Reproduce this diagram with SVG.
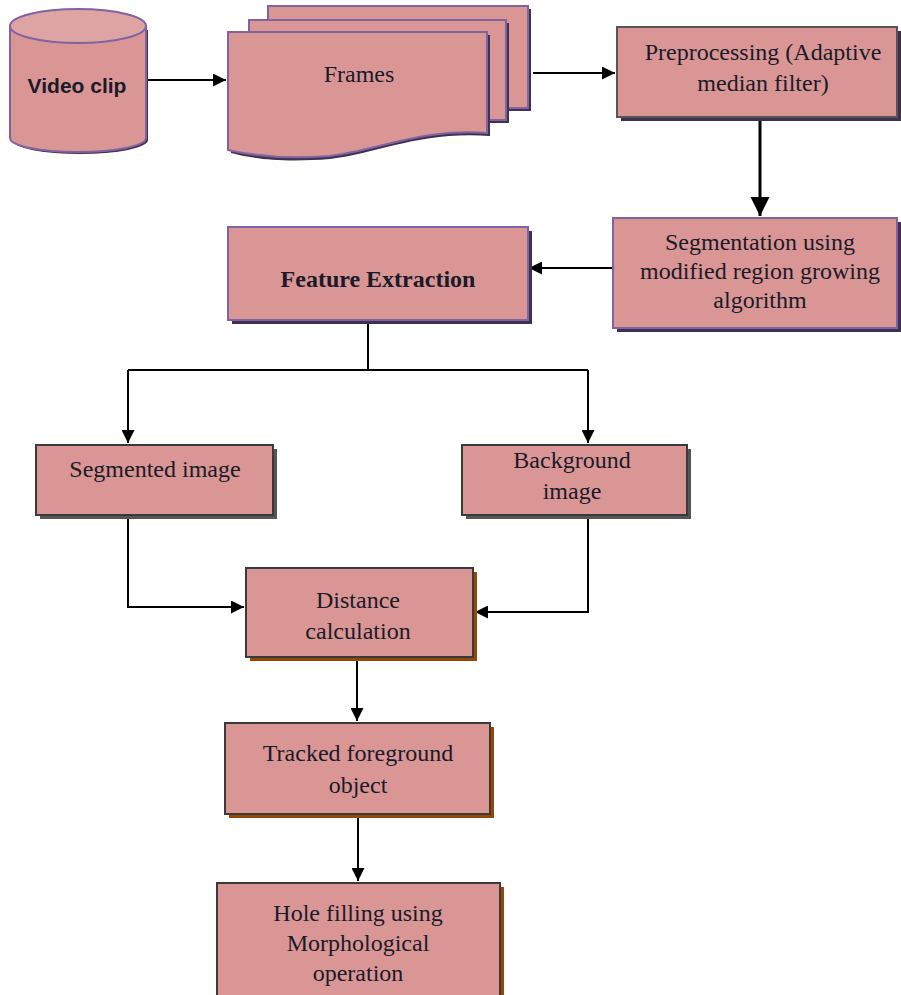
<svg xmlns="http://www.w3.org/2000/svg" width="901" height="995" viewBox="0 0 901 995">
<defs>
<style>
.box{fill:#d99694;}
.bp{stroke:#8064a2;stroke-width:2;}
.bg{stroke:#3a3a3a;stroke-width:2;}
.shp{fill:#3f3151;}
.shb{fill:#984806;}
.shg{fill:#555555;}
.t{font-family:"Liberation Serif","Times New Roman",serif;font-size:24px;fill:#1a1a2a;text-anchor:middle;}
.ts{font-family:"Liberation Sans",Arial,sans-serif;font-size:21px;font-weight:bold;fill:#1a1a2a;text-anchor:middle;}
.c{stroke:#000;stroke-width:2;fill:none;}
</style>
<marker id="ah" viewBox="0 0 10 10" refX="10" refY="5" markerWidth="6.5" markerHeight="6.5" markerUnits="strokeWidth" orient="auto">
<path d="M0,0 L10,5 L0,10 Z" fill="#000"/>
</marker>
</defs>
<rect width="901" height="995" fill="#fff"/>

<g id="connectors">
<line class="c" x1="146" y1="80" x2="226" y2="80" marker-end="url(#ah)"/>
<line class="c" x1="533" y1="73" x2="615" y2="73" marker-end="url(#ah)"/>
<line class="c" x1="760" y1="121" x2="760" y2="216" marker-end="url(#ah)" style="stroke-width:3"/>
<line class="c" x1="613" y1="268" x2="529" y2="268" marker-end="url(#ah)"/>
<polyline class="c" points="368,322 368,370"/>
<polyline class="c" points="128,370 588,370"/>
<line class="c" x1="128" y1="370" x2="128" y2="443" marker-end="url(#ah)"/>
<line class="c" x1="588" y1="370" x2="588" y2="443" marker-end="url(#ah)"/>
<polyline class="c" points="128,517 128,607 244,607" marker-end="url(#ah)"/>
<polyline class="c" points="588,517 588,612 475,612" marker-end="url(#ah)"/>
<line class="c" x1="357" y1="659" x2="357" y2="721" marker-end="url(#ah)"/>
<line class="c" x1="358" y1="818" x2="358" y2="881" marker-end="url(#ah)"/>
</g>

<g id="video-clip">
<path d="M12,30 V140 A68,14 0 0 0 148,140 V30 Z" fill="#3f3151"/>
<path d="M10,26 V138 A68,14 0 0 0 146,138 V26 Z" class="box bp"/>
<ellipse cx="78" cy="26" rx="68" ry="17" fill="#dea4a3" stroke="#8064a2" stroke-width="2"/>
<text class="ts" x="77" y="93">Video clip</text>
</g>

<g id="frames">
<rect x="271" y="9" width="260" height="102" class="shp"/>
<rect x="268" y="6" width="260" height="102" class="box bp"/>
<rect x="252" y="23" width="257" height="100" class="shp"/>
<rect x="249" y="20" width="257" height="100" class="box bp"/>
<path d="M231,35 H490 V136 C420,131 380,153 330,159 C280,163 250,158 231,153 Z" class="shp"/>
<path d="M228,32 H487 V133 C420,128 380,150 330,156 C280,160 250,155 228,150 Z" class="box bp"/>
<text class="t" x="359" y="82">Frames</text>
</g>

<g id="preprocessing">
<rect x="621" y="31" width="280" height="90" class="shp"/>
<rect x="617" y="27" width="280" height="90" class="box" stroke="#555" stroke-width="2"/>
<text class="t" x="763" y="60">Preprocessing (Adaptive</text>
<text class="t" x="763" y="91">median filter)</text>
</g>

<g id="segmentation">
<rect x="617" y="222" width="284" height="110" class="shp"/>
<rect x="613" y="218" width="284" height="110" class="box bp"/>
<text class="t" x="760" y="250">Segmentation using</text>
<text class="t" x="760" y="279">modified region growing</text>
<text class="t" x="760" y="308">algorithm</text>
</g>

<g id="feature-extraction">
<rect x="232" y="231" width="300" height="93" class="shp"/>
<rect x="228" y="227" width="300" height="93" class="box bp"/>
<text class="t" x="378" y="287" font-weight="bold" font-size="23">Feature Extraction</text>
</g>

<g id="segmented-image">
<rect x="40" y="449" width="237" height="70" class="shg"/>
<rect x="36" y="445" width="237" height="70" class="box bg"/>
<text class="t" x="155" y="477">Segmented image</text>
</g>

<g id="background-image">
<rect x="466" y="449" width="225" height="70" class="shg"/>
<rect x="462" y="445" width="225" height="70" class="box bg"/>
<text class="t" x="572" y="468">Background</text>
<text class="t" x="572" y="499">image</text>
</g>

<g id="distance-calculation">
<rect x="250" y="572" width="227" height="89" class="shb"/>
<rect x="246" y="568" width="227" height="89" class="box bg"/>
<text class="t" x="358" y="608">Distance</text>
<text class="t" x="358" y="639">calculation</text>
</g>

<g id="tracked-object">
<rect x="229" y="727" width="265" height="91" class="shb"/>
<rect x="225" y="723" width="265" height="91" class="box bg"/>
<text class="t" x="358" y="761">Tracked foreground</text>
<text class="t" x="358" y="793">object</text>
</g>

<g id="hole-filling">
<rect x="221" y="887" width="283" height="120" class="shb"/>
<rect x="217" y="883" width="283" height="120" class="box bg"/>
<text class="t" x="358" y="921">Hole filling using</text>
<text class="t" x="358" y="951">Morphological</text>
<text class="t" x="358" y="981">operation</text>
</g>
</svg>
